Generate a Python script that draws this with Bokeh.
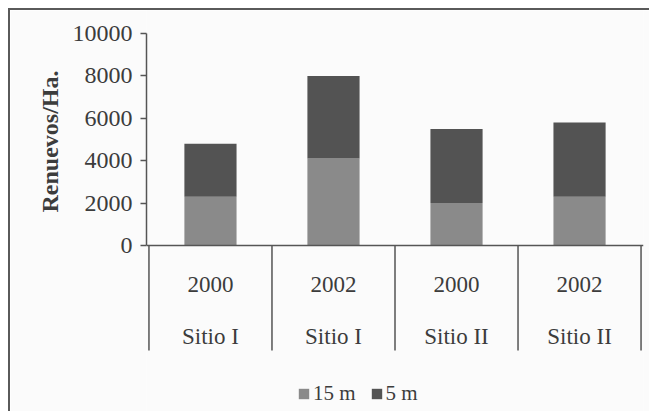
from bokeh.plotting import figure, ColumnDataSource
from bokeh.models import Range1d, FactorRange, FixedTicker, Span, Legend, LegendItem, Title
from bokeh.core.properties import value
from bokeh.embed import file_html
from bokeh.resources import INLINE

# ---- data ----
years = ["2000", "2002", "2000", "2002"]
sites = ["Sitio I", "Sitio I", "Sitio II", "Sitio II"]
series = ["15 m", "5 m"]
m15 = [2300, 4100, 2000, 2300]
m5 = [2500, 3900, 3500, 3500]
y_ticks = [0, 2000, 4000, 6000, 8000, 10000]

cats = [f"{y} {s}" for y, s in zip(years, sites)]

FONT = value("Liberation Serif")
TXT = "#3c3c3c"
LINE = "#555555"
COLORS = ["#8a8a8a", "#535353"]
BG = "#fbfbfb"

p = figure(
    width=641, height=403,
    x_range=FactorRange(*cats, range_padding=0.02, range_padding_units="absolute"),
    y_range=Range1d(-7925, 11085),
    x_axis_location=None,
    toolbar_location=None,
    output_backend="svg",
    min_border_left=136, min_border_right=8,
    min_border_top=0, min_border_bottom=0,
    background_fill_color=BG, border_fill_color=BG,
    outline_line_color=None,
)
p.grid.visible = False
p.styles = {"margin-left": "8px", "margin-top": "8px",
            "border-left": "2px solid #5a5a5a", "border-top": "2px solid #5a5a5a"}

src = ColumnDataSource(dict(cat=cats, year=years, site=sites, **{series[0]: m15, series[1]: m5}))
rs = p.vbar_stack(series, x="cat", width=0.424, color=COLORS, line_color=None, source=src)

# x axis baseline
p.add_layout(Span(location=y_ticks[0], dimension="width", line_color=LINE, line_width=1.5))

# category separators
sep_x = [(c, -0.5) for c in cats] + [(cats[-1], 0.5)]
p.segment(x0=sep_x, y0=0, x1=sep_x, y1=-4950, line_color=LINE, line_width=1.5)

# two-level category labels
p.text(x="cat", y=0, text="year", source=src, y_offset=39, text_align="center",
       text_baseline="middle", text_font=FONT, text_font_size="23px", text_color=TXT)
p.text(x="cat", y=0, text="site", source=src, y_offset=91, text_align="center",
       text_baseline="middle", text_font=FONT, text_font_size="23px", text_color=TXT)

# y axis
ax = p.yaxis[0]
ax.ticker = FixedTicker(ticks=y_ticks)
ax.bounds = (y_ticks[0], y_ticks[-1])
ax.axis_line_color = LINE
ax.axis_line_width = 1.5
ax.major_tick_line_color = LINE
ax.major_tick_line_width = 1.5
ax.major_tick_out = 6
ax.major_tick_in = 0
ax.minor_tick_out = 0
ax.minor_tick_in = 0
ax.major_label_text_font = "Liberation Serif"
ax.major_label_text_font_size = "24px"
ax.major_label_text_color = TXT
ax.major_label_standoff = 8

# y axis title, placed along the 0..10000 part of the axis
p.add_layout(Title(
    text="Renuevos/Ha.", align="right", offset=60, standoff=14,
    text_font="Liberation Serif", text_font_style="bold",
    text_font_size="24px", text_color=TXT,
), "left")

legend = Legend(
    items=[LegendItem(label=s, renderers=[r]) for s, r in zip(series, rs)],
    orientation="horizontal", location=(151, 7),
    glyph_width=13, glyph_height=13, label_standoff=3, spacing=14,
    padding=0, margin=0, border_line_color=None, background_fill_alpha=0,
    label_text_font="Liberation Serif", label_text_font_size="21px",
    label_text_color=TXT,
)
p.add_layout(legend)

open("out.html", "w").write(file_html(p, INLINE))
